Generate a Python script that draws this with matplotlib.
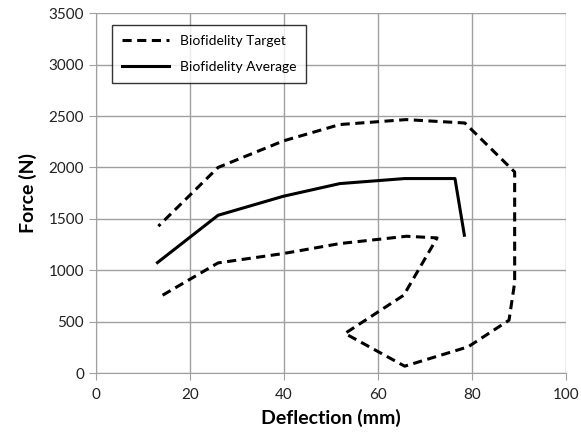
import matplotlib
matplotlib.use('Agg')
import matplotlib.pyplot as plt

# Biofidelity target corridor (one continuous path)
target_x = [14.2, 26.0, 39.9, 51.9, 66.1, 72.6, 65.5, 53.0, 65.7, 79.2, 87.9,
            89.1, 89.1, 78.5, 66.0, 51.9, 39.9, 26.0, 13.3]
target_y = [758, 1072, 1163, 1260, 1331, 1315, 758, 386, 68, 256, 515,
            880, 1956, 2432, 2465, 2417, 2258, 2000, 1429]

# Biofidelity average
avg_x = [13.1, 26.0, 39.9, 51.9, 65.7, 76.4, 78.4]
avg_y = [1075, 1535, 1720, 1843, 1892, 1892, 1341]

plt.rcParams.update({'font.family': ['Lato', 'DejaVu Sans']})

fig = plt.figure(figsize=(5.81, 4.38), dpi=100)
ax = fig.add_axes([0.165, 0.148, 0.809, 0.822])

ax.plot(target_x, target_y, color='black', lw=2.2, linestyle=(0, (3, 1.8)),
        label='Biofidelity Target')
ax.plot(avg_x, avg_y, color='black', lw=2.2, label='Biofidelity Average')

ax.set_xlim(0, 100)
ax.set_ylim(0, 3500)
ax.set_xticks(range(0, 101, 20))
ax.set_yticks(range(0, 3501, 500))
ax.grid(True, color='#a0a0a0', lw=1)
ax.set_axisbelow(True)
for s in ['top', 'right']:
    ax.spines[s].set_visible(False)
for s in ['left', 'bottom']:
    ax.spines[s].set_color('#a0a0a0')
ax.tick_params(colors='#a0a0a0', labelcolor='#222222', length=5, labelsize=11)
ax.tick_params(axis='x', pad=6)

ax.set_xlabel('Deflection (mm)', fontsize=14, fontweight='bold', labelpad=5)
ax.set_ylabel('Force (N)', fontsize=14, fontweight='bold', labelpad=8)

leg = ax.legend(loc='upper left', bbox_to_anchor=(0.02, 0.985), fontsize=10,
                frameon=True, fancybox=False, handlelength=3.4,
                labelspacing=1.0, borderpad=0.7)
leg.get_frame().set_edgecolor('black')
leg.get_frame().set_linewidth(1)

fig.savefig('out.png', dpi=100)
